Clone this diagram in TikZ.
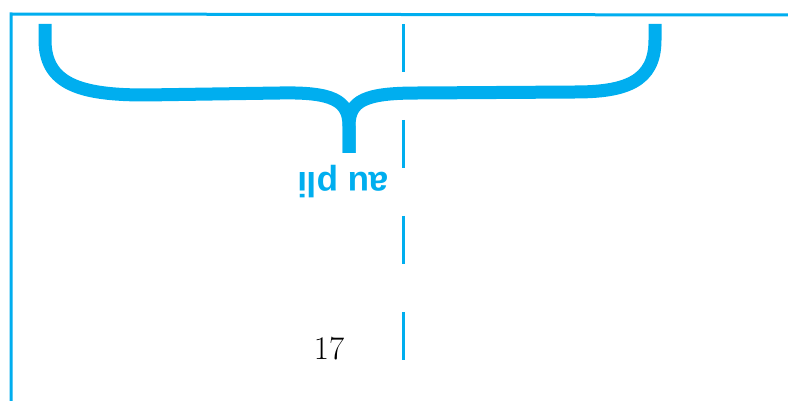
\documentclass[tikz,border=0pt]{standalone}
\usepackage{fontspec}
\newfontfamily\labelfont{Liberation Sans}
\definecolor{pliblue}{RGB}{0,174,239}
\begin{document}
\begin{tikzpicture}[x=1pt,y=-1pt,
  border/.style={draw=pliblue,line width=3pt},
  bracestyle/.style={draw=pliblue,line width=13pt,line cap=butt},
  foldline/.style={draw=pliblue,line width=3pt,dash pattern=on 48pt off 48pt},
  foldlabel/.style={text=pliblue,font=\labelfont\fontsize{35}{38}\selectfont\bfseries,rotate=180,inner sep=0pt},
  pagenum/.style={font=\fontsize{33}{36}\selectfont,inner sep=0pt}]
\useasboundingbox (0,0) rectangle (788,401);
\coordinate (tl) at (11,14);
\coordinate (tr) at (788,15);
\coordinate (bl) at (11,401);
\draw[border] (tr) -- (tl) -- (bl);
% brace
\coordinate (la) at (45,24);
\coordinate (ra) at (655,24);
\coordinate (tip) at (349,153);
\draw[bracestyle] (la) -- (45,40) .. controls (45,84) and (80,95) .. (145,95)
  -- (280,93) .. controls (332,92) and (349,100) .. (349,126) -- (tip);
\draw[bracestyle] (ra) -- (655,40) .. controls (655,82) and (625,92) .. (575,92)
  -- (418,93) .. controls (366,93) and (349,100) .. (349,126) -- (tip);
% fold line
\coordinate (ft) at (403,24);
\coordinate (fb) at (403,360);
\draw[foldline] (ft) -- (fb);
\node[foldlabel] (lbl) at (343,182) {au pli};
\node[pagenum] (num) at (329,349) {17};
\end{tikzpicture}
\end{document}
